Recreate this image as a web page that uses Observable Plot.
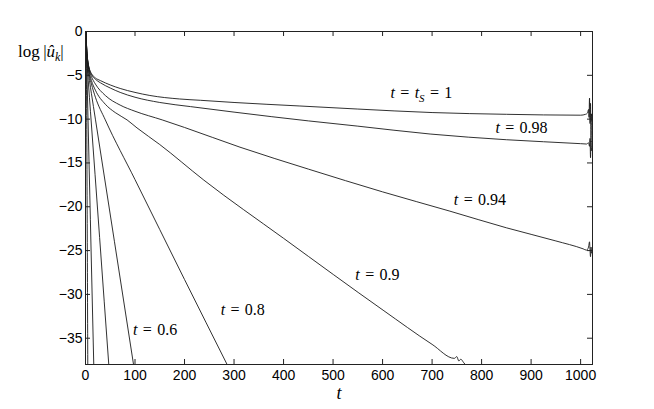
<!DOCTYPE html>
<html><head><meta charset="utf-8">
<script src="https://cdn.jsdelivr.net/npm/d3@7"></script>
<script src="https://cdn.jsdelivr.net/npm/@observablehq/plot@0.6"></script>
<style>body{margin:0;background:#fff}</style>
</head><body><div id="chart"></div>
<script>
// ---- data ----
const xTicks = [0, 100, 200, 300, 400, 500, 600, 700, 800, 900, 1000];
const yTicks = [0, -5, -10, -15, -20, -25, -30, -35];

// each curve: [k, log|u_k|]
const curveT1 = [[1,0],[2,-1.5],[3,-2.5],[5,-3.5],[8,-4.3],[12,-4.8],[20,-5.3],[30,-5.6],[50,-6.1],[70,-6.5],[100,-6.95],[130,-7.3],[190,-7.7],[232,-7.85],[300,-8.1],[433,-8.5],[550,-8.85],[700,-9.25],[850,-9.45],[1000,-9.55],[1010,-9.45],[1014,-9.3],[1016,-8.9],[1017,-9.8],[1018,-7.6],[1019,-10.5],[1020,-8.2],[1021,-12.6],[1022,-9.4],[1023,-10.2],[1024,-9.8]];
const curveT098 = [[1,0],[2,-1.5],[3,-2.5],[5,-3.5],[8,-4.35],[12,-4.9],[20,-5.45],[30,-5.85],[50,-6.45],[70,-6.95],[100,-7.5],[150,-8.1],[212,-8.57],[300,-9.2],[450,-10.2],[550,-10.8],[696,-11.7],[850,-12.35],[1000,-12.8],[1012,-12.84],[1016,-12.7],[1018,-13.1],[1019,-12.2],[1020,-14.4],[1021,-12.5],[1022,-13.6],[1024,-13.0]];
const curveT094 = [[1,0],[2,-1.55],[3,-2.55],[5,-3.6],[8,-4.5],[12,-5.15],[20,-6.0],[40,-7.3],[70,-8.4],[100,-9.1],[155,-10.09],[200,-10.95],[312,-13.2],[450,-15.7],[600,-18.3],[736,-20.5],[850,-22.4],[950,-23.9],[1005,-24.8],[1012,-24.95],[1016,-24.6],[1018,-24.0],[1019,-25.0],[1020,-25.7],[1021,-24.6],[1022,-25.3],[1024,-25.0]];
const curveT09 = [[1,0],[2,-1.6],[3,-2.65],[5,-3.75],[8,-4.75],[12,-5.6],[20,-6.7],[40,-8.3],[60,-9.25],[84,-10.09],[104,-11.0],[150,-12.9],[239,-16.96],[400,-23.6],[601,-31.8],[700,-35.7],[745,-37.3],[750,-37.1],[754,-37.6],[758,-37.4],[764,-37.8],[770,-38.2]];
const curveT08 = [[1,0],[2,-1.7],[3,-2.8],[5,-4.0],[8,-5.1],[12,-6.0],[20,-7.5],[40,-10.09],[100,-16.9],[200,-28.3],[286,-38]];
const curveT06 = [[1,0],[2,-1.9],[4,-3.9],[8,-5.6],[12,-7.1],[20,-10.0],[97,-38]];
const curveA = [[1,0],[2,-2.2],[4,-4.4],[6,-6.0],[10,-9.1],[47,-38]];
const curveB = [[1,0],[2,-2.6],[3,-5.0],[16.7,-38]];
const curveC = [[1,0],[2,-6],[4.6,-38]];

const curveNames = ["1", "0.98", "0.94", "0.9", "0.8", "0.6", "a", "b", "c"];
const curveList = [curveT1, curveT098, curveT094, curveT09, curveT08, curveT06, curveA, curveB, curveC];

const labelText = ["t = t_S = 1", "t = 0.98", "t = 0.94", "t = 0.9", "t = 0.8", "t = 0.6"];
const labelK = [616, 828, 744, 545, 273, 96];
const labelV = [-7.0, -11.0, -19.2, -27.75, -31.8, -34.0];

// ---- build tables ----
const rows = curveList.flatMap((c, i) => c.map(([k, v]) => ({name: curveNames[i], k, v})));
const labels = labelText.map((s, i) => ({s, k: labelK[i], v: labelV[i]}));

const W = 654, H = 409, mL = 85, mR = 62, mT = 31, mB = 45;
const plotW = W - mL - mR, plotH = H - mT - mB, tl = 5;
const axisColor = "#222";
const SERIF = "Liberation Serif, Tinos, Times New Roman, DejaVu Serif, serif";
const SANS = "Liberation Sans, Arimo, Arial, Helvetica, DejaVu Sans, sans-serif";

const chart = Plot.plot({
  width: W, height: H,
  marginLeft: mL, marginRight: mR, marginTop: mT, marginBottom: mB,
  style: {fontFamily: SANS, fontSize: "14px", background: "#fff", color: "#000"},
  x: {domain: [0, 1024], label: null},
  y: {domain: [-38, 0], label: null},
  marks: [
    Plot.line(rows, {x: "k", y: "v", z: "name", curve: "monotone-x", stroke: "#1a1a1a", strokeWidth: 0.9, clip: true}),
    Plot.frame({stroke: axisColor, strokeWidth: 1}),
    Plot.tickX(xTicks, {x: d => d, insetTop: plotH - tl, stroke: axisColor}),
    Plot.tickX(xTicks, {x: d => d, insetBottom: plotH - tl, stroke: axisColor}),
    Plot.tickY(yTicks, {y: d => d, insetRight: plotW - tl, stroke: axisColor}),
    Plot.tickY(yTicks, {y: d => d, insetLeft: plotW - tl, stroke: axisColor}),
    Plot.axisX(xTicks, {tickSize: 0, tickPadding: 6, fontSize: 14, fontFamily: SANS, tickFormat: d => String(d)}),
    Plot.axisY(yTicks, {tickSize: 0, tickPadding: 3, fontSize: 14, fontFamily: SANS, tickFormat: d => d < 0 ? "\u2212" + Math.abs(d) : String(d)}),
    Plot.text(labels, {x: "k", y: "v", text: "s", textAnchor: "start", lineAnchor: "middle",
      fontFamily: SERIF, fontSize: 16, fill: "#000"})
  ]
});
document.getElementById("chart").appendChild(chart);

const NS = "http://www.w3.org/2000/svg";
function tspan(parent, txt, attrs = {}) {
  const t = document.createElementNS(NS, "tspan");
  t.textContent = txt;
  for (const [a, b] of Object.entries(attrs)) t.setAttribute(a, b);
  parent.appendChild(t);
  return t;
}
// math-style labels: italic letters, subscripts via _X, wider spaces around "="
function mathify(el, s) {
  el.textContent = "";
  el.setAttribute("font-family", SERIF);
  el.setAttribute("font-size", "16");
  el.style.fontFamily = SERIF;
  const parts = s.replace(/ /g, "\u2004").match(/_[A-Za-z0-9]|[A-Za-z]+|[^A-Za-z_]+/g);
  let shifted = false;
  for (const p of parts) {
    if (p[0] === "_") {
      tspan(el, p.slice(1), {"font-style": "italic", "font-size": "11", dy: "4"});
      shifted = true;
    } else {
      const attrs = /^[A-Za-z]+$/.test(p) ? {"font-style": "italic"} : {};
      if (shifted) { attrs.dy = "-4"; shifted = false; }
      tspan(el, p, attrs);
    }
  }
}
const svg = d3.select(chart.tagName.toLowerCase() === "svg" ? chart : chart.querySelector("svg"));
svg.selectAll('g[aria-label="text"] text').each(function(d, i) { mathify(this, labels[i].s); });

// y-axis title: log|û_k|
const yt = svg.append("text").attr("x", 18).attr("y", 57).attr("text-anchor", "start")
  .attr("font-family", SERIF).attr("font-size", 17).attr("fill", "#000").node();
yt.style.fontFamily = SERIF;
tspan(yt, "log\u2009|");
tspan(yt, "\u00fb", {"font-style": "italic"});
tspan(yt, "k", {"font-style": "italic", "font-size": "12", dy: "4"});
tspan(yt, "|", {dy: "-4"});

// x-axis title: t
const xt = svg.append("text").attr("x", 339).attr("y", 399).attr("text-anchor", "middle")
  .attr("font-family", SERIF).attr("font-size", 18)
  .attr("font-style", "italic").attr("fill", "#000").text("t").node();
xt.style.fontFamily = SERIF;
</script>
</body></html>
